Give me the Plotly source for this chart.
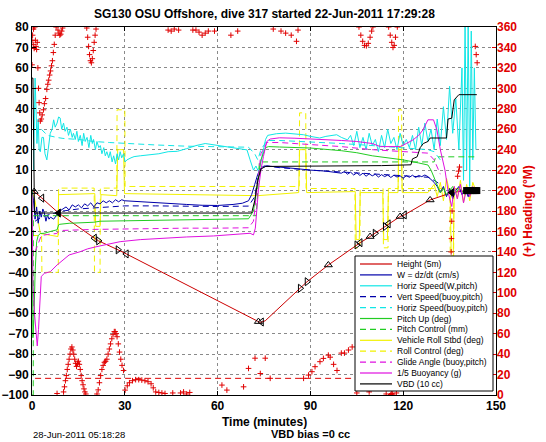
import plotly.graph_objects as go

# ---------------- data ----------------
# Height (5 m units) vs time (minutes)
height_t = [0, 0.7, 3.2, 8.6, 20.2, 21.5, 27.8, 30.5, 73.2, 73.8, 75.4, 86.7, 88.9, 95.8, 105, 106.1,
            109.3, 110.9, 114.2, 115.2, 119, 120.4, 128.7, 135.7, 140.5, 143.8]
height_v = [0, -0.5, -3.7, -11, -23.3, -24.6, -29, -31, -64.1, -64.5, -63.7, -47.8, -44.6, -36.4, -26.6, -25.5,
            -22.5, -20.9, -17.6, -16.3, -12.7, -11.9, -4.6, -1, 0, 0]

# control events marked on the depth trace
gc_t = [0.7, 3.2, 8.6, 20.2, 21.5, 27.8, 30.5, 73.2, 74.2, 86.7, 88.9, 95.8, 105, 106.1, 109.3, 110.9,
        114.2, 115.2, 119, 120.4, 128.7, 135.7]
gc_v = [-0.5, -3.7, -11, -23.3, -24.6, -29, -31, -64.1, -64.3, -47.8, -44.6, -36.4, -26.6, -25.5, -22.5, -20.9,
        -17.6, -16.3, -12.7, -11.9, -4.6, -1]
gc_kind = ['up', 'left', 'solid', 'left', 'right', 'right', 'left', 'up', 'left', 'right', 'right', 'up',
           'right', 'left', 'up', 'right', 'right', 'left', 'up', 'left', 'up', 'solid']
surf_t = [140.5, 141.2, 141.9, 142.6, 143.3, 143.8]
surf_v = [0, 0, 0, 0, 0, 0]

# W = dz/dt (cm/s)
w_t = [0, 0.5, 1, 1.5, 2, 2.5, 3, 3.5, 4, 4.5, 5, 5.5, 6, 7, 8, 8.6,
       9, 10, 11, 12, 13, 14, 15, 16, 17, 18, 19, 20, 21, 22, 23, 24, 25, 26, 27, 28, 29, 30,
       32, 35, 40, 45, 50, 55, 60, 65, 68, 70,
       71, 72, 73, 74, 75, 76, 78, 80, 85, 90, 95, 100,
       101, 102, 103, 104, 105, 106, 107, 108, 109, 110, 111, 112, 113, 114, 115, 116, 117, 118, 119, 120,
       121, 122, 123, 124, 125, 126, 127, 128, 129, 130, 131, 132, 133, 134, 135, 136, 137, 138, 139, 140,
       141, 142, 143, 143.8]
w_v = [0, -5, -14, -8, -16, -10, -13, -9, -11, -15, -12, -14, -13, -14, -12, -11,
       -10, -9, -8, -9.5, -7, -8, -7, -8.5, -6.5, -7.5, -6, -8, -6, -6.5, -5, -6, -5, -6, -4.5, -5.5, -4.5, -5,
       -5.2, -5.6, -6, -6.3, -6.8, -7.2, -7.3, -6.8, -6.2, -5,
       -2, 3, 8, 11, 12, 12, 11.8, 11.4, 10.8, 10, 9.5, 8.5,
       9.3, 8, 9, 7.6, 8.7, 7.4, 8.5, 7, 8.2, 7.2, 8, 6.6, 7.8, 6.8, 7.6, 6.4, 7.5, 6.6, 7.2, 6,
       7.3, 6.5, 7.5, 6.4, 7.4, 6.8, 7.6, 6.8, 5.5, 4, 2, -1, 2, -3, 1, -4, 0, 2, -2, 1,
       -3, 1, -1, 0]

# Horiz speed (W, pitch)
hs_t = [0.5, 1, 1.3, 1.6, 2, 2.3, 2.7, 3.2, 3.7, 4.2, 4.8, 5.3, 5.9, 6.5, 7, 7.5, 8.1, 8.6, 9.1,
        9.6, 10.2, 10.7, 11.3, 11.8, 12.4, 13, 13.4, 14, 14.5, 15, 15.6, 16.2, 16.7, 17.2, 17.8, 18.4, 19,
        19.5, 19.9, 20.5, 21, 21.6, 22.1, 22.6, 23.2, 23.7, 24.2, 24.8, 25.3, 25.9, 26.4, 27, 27.5, 28,
        28.5, 29, 29.6, 30.1, 30.7,
        32, 33, 35, 38, 41, 44, 47, 50, 53, 56, 60, 63, 66, 69.5, 70.5, 71.6, 72.4, 73.2, 74, 74.8, 75.5,
        76.2, 77, 79, 82, 85, 87.8, 90, 93, 95, 98.5, 100, 102,
        103, 104, 105, 106, 107, 108, 109, 110, 111, 112, 113, 114, 115, 116, 117, 118, 119, 120, 121, 122,
        123, 124, 125, 126, 127, 128, 129, 130, 131, 132, 133, 134, 135, 136, 137, 138,
        139, 139.5, 140, 140.5, 141, 141.5, 142, 142.5, 143, 143.5]
hs_v = [10, 55, 40, 23, 35, 20, 19, 26, 26, 18, 15, 22, 28, 30, 34.6, 31, 33, 36, 35.5,
        30, 33, 29, 31, 27, 30, 26, 28, 25, 29, 24, 27, 22, 28, 24, 26, 21, 27,
        23, 25, 20, 24, 21, 22, 18, 21, 17, 19, 16, 19, 14, 17, 13, 18, 15,
        19, 16, 18, 14, 15,
        16, 16.6, 17, 17.5, 18, 19, 19.2, 20.5, 22, 23, 22, 21.5, 20.5, 19.9, 15, 10, 12, 9.3, 14, 20, 25,
        27, 27.3, 27.8, 28.1, 27.8, 27.3, 26.5, 25.7, 26.5, 27.3, 26, 24.8,
        27, 22, 29, 21, 26, 20, 28, 22, 25, 19, 27, 21, 30, 23, 26, 20, 28, 22, 25, 21,
        27, 20, 31, 22, 33, 24, 30, 20, 35, 22, 41, 25, 51, 28, 45, 20,
        60, 5, 82, 10, 82, 2, 78, 15, 60, 20]

# Vert speed (buoy, pitch)
vs_t = [1, 2, 3, 5, 8, 10, 15, 20, 30, 40, 50, 60, 70, 72, 73, 74, 76, 80, 90, 100, 110, 120, 128, 130, 132]
vs_v = [-15, -14, -13, -12, -11, -10, -9, -8.5, -7.5, -7.5, -7.8, -7.8, -7.6, -3, 6, 11, 12, 11.2, 10, 9, 8, 7,
        6.5, 5, 3]

# Horiz speed (buoy, pitch)
hb_t = [3, 5, 8, 10, 15, 20, 25, 30, 40, 50, 60, 70, 72, 73, 74, 76, 80, 90, 100, 110, 120, 128, 130, 132]
hb_v = [30, 27, 26, 25.5, 25, 24, 23.5, 23, 22.3, 21.7, 21.4, 21.2, 18, 15, 20, 24.5, 24.5, 23.8, 23, 22, 21,
        20, 19, 15]

# Pitch up (deg)
p_t = [0, 0.3, 0.7, 1, 1.5, 2, 2.7, 4, 6, 8.1, 8.6, 9, 12, 20, 22, 30, 40, 50, 60, 70,
       71.6, 73, 74, 75.5, 76.5, 80, 90, 100, 105, 110, 115, 120, 125, 128, 129, 130, 131, 132, 133, 134,
       135, 136, 137, 138, 139, 140, 141, 142, 143, 143.8]
p_v = [0, -72, -60, -40, -25, -22, -21, -20.9, -20, -19.2, -16.8, -16.5, -16, -15.5, -15, -14.8, -14.8, -14.6,
       -14.4, -13.8, -10, 5, 15, 21, 21.5, 21.3, 20.8, 19.5, 18.5, 17, 16, 15, 13.5, 12.5, 10, 6, 2, -1, 1, -2,
       0, 2, -1, 1, 0, -2, 1, 0, 1, 0]

# Pitch control (mm)
pc_t = [0, 0.4, 0.45, 72.5, 73.5, 130, 130.5, 143.8]
pc_v = [-100, -100, -12.3, -12.3, 14, 14, 16.5, 16.5]

# Vehicle roll stbd (deg)
vr_t = [0, 1, 2, 2.7, 8.4, 8.6, 20.3, 20.6, 22, 22.3, 27.4, 27.7, 29.6, 29.9, 73, 86.2, 86.5, 88.5, 88.8, 104.5,
        104.8, 105.8, 106.1, 113.4, 113.7, 114.9, 115.2, 118.3, 118.6, 119.4, 119.7, 128, 130, 131, 132, 133,
        134, 135.2, 135.5, 136.2, 136.5, 137.5, 138.5, 139.5, 140.5, 141.5, 142.5, 143.5]
vr_v = [0, -5, -15, -21, -22.5, -2, -1.5, -17.5, -17.5, -2, -2.5, 20, 20, -1.5, -2.5, -1, 20, 20, -1, -0.5,
        -24, -24, -1, -1, -24, -24, -1, -1, 20, 20, -1, -1, 3, -3, 4, -5, 6, -2, -30, -30, 2, -4, 5, -6, 3, -5,
        4, 0]

# Roll control (deg)
rc_t = [0, 3.1, 3.2, 8.5, 8.6, 20.1, 20.2, 22, 22.1, 27.4, 27.5, 30, 30.1, 86.4, 86.5, 88.5, 88.6, 104.4, 104.5,
        106, 106.1, 113.5, 113.6, 115.1, 115.2, 118.4, 118.5, 119.5, 119.6, 135.1, 135.2, 136.3, 136.4, 143.8]
rc_v = [-22, -22, -40, -40, 1.2, 1.2, -40, -40, 1.2, 1.2, 39.5, 39.5, 2, 2, 38, 38, 1, 1, -28, -28, 1, 1, -28,
        -28, 1, 1, 39.5, 39.5, 1, 1, -32, -32, 1, 1]

# Glide angle (buoy, pitch)
ga_t = [1, 3, 5, 8, 8.6, 10, 20, 30, 40, 50, 60, 70, 71.6, 73, 74, 76, 80, 90, 100, 110, 120, 128, 130, 132]
ga_v = [-30, -22, -21.5, -21, -20, -19.5, -19, -18.7, -18.5, -18.4, -18.4, -18.2, -15, 5, 18, 23.5, 23.5, 22.5,
        21.5, 20, 19, 18.3, 15, 8]

# 1/5 Buoyancy (g)
b_t = [0, 0.3, 0.8, 1.3, 1.7, 2.1, 2.6, 3.0, 4, 5.9, 8.1, 10.2, 12, 15.6, 18, 21, 25, 28.5, 35, 42.5,
       50, 58.7, 65, 70.5, 71.6, 72.2, 73.2, 74, 74.8, 75.9, 77, 80, 85, 90, 95, 100, 105, 110, 112.6, 116,
       119, 121, 123.2, 125, 126.4, 128, 129.8, 130.9, 132, 133.5, 134.6, 135.7, 136.5, 137.5, 138.5, 139.5,
       140.5, 141.5, 142.5, 143.5]
b_v = [-2, -45, -60, -72, -76, -68, -55, -42, -40.5, -39.7, -36.4, -33.9, -31.5, -29.9, -28.5, -27.4, -26, -25,
       -24, -23.3, -22.7, -22.2, -21.5, -20.9, -21.7, -18.4, 0.3, 10, 16.6, 24, 25.2, 25.8, 25.6, 25.3, 25, 24.5,
       24, 23, 21.5, 21.5, 21.5, 23, 24.8, 27, 29.7, 34.6, 34.6, 29.7, 20, 10, -1.3, -7.8, 2, -4, 3, -6, 1, -3,
       2, 0]

# VBD (10 cc)
vbd_t = [0, 0.3, 0.8, 71, 72, 73, 74, 75.5, 113, 122.5, 123, 124.5, 125.5, 126.5, 128, 128.7, 134, 134.5, 135.7,
         136.5, 138, 143.8]
vbd_v = [55, 55, -11, -11, -5, 5, 10.5, 11.8, 12.2, 12.6, 15.5, 16.5, 21, 23, 24, 25.7, 25.7, 35, 35.4, 44.4,
         46.9, 46.9]

# Heading (deg magnetic) on right axis
hd_t = [0.0, 0.0, 0.2, 0.4, 0.5, 0.7, 0.9, 1.1, 1.3, 1.5, 1.7, 1.9, 2.1, 2.3, 2.5, 2.7, 3.0, 3.3, 3.7, 4.0,
        4.4, 4.8, 5.1, 5.4, 5.7, 6.0, 6.3, 6.6, 6.9, 7.2, 7.5, 7.8, 8.1, 8.4, 8.7, 9.0, 9.3, 9.6, 9.9, 10.2,
        10.5, 10.8, 11.1, 11.4, 11.7, 12.0, 12.3, 12.6, 12.9, 13.2, 13.5, 13.8, 14.1, 14.4, 14.7, 15.0, 15.3,
        15.6, 15.9, 16.2, 16.5, 16.8, 17.1, 17.4, 17.7, 18.0, 18.3, 18.6, 18.9, 19.2, 19.5, 19.8, 20.1, 20.4,
        20.7, 21.0, 21.4, 21.8, 22.2, 22.6, 23.0, 23.4, 23.8, 24.2, 24.6, 25.0, 25.4, 25.8, 26.2, 26.6, 26.9,
        27.2, 27.5, 27.9, 28.3, 28.7, 29.1, 29.6, 30.1, 30.8, 31.5, 32.5, 33.5, 34.5, 35.5, 36.5, 37.5, 38.5,
        39.2, 40.0, 41.0, 42.0, 43.0, 44.0, 45.0, 45.5, 46.0, 47.4, 48.0, 49.0, 50.0, 51.0, 52.0, 53.0, 54.0,
        55.0, 56.0, 57.0, 59.0, 61.4, 63.0, 64.3, 66.5, 68.4, 70.0, 72.1, 73.8, 75.4, 77.0, 78.0, 80.5, 82.0,
        83.8, 85.5, 86.0, 87.8, 89.4, 90.5, 91.5, 93.1, 94.2, 95.8, 96.4, 97.5, 98.6, 100.0, 101.0, 102.3,
        103.5, 105.0, 105.7, 106.3, 106.9, 107.5, 108.1, 108.7, 109.0, 109.3, 109.8, 110.2, 114.5, 115.3,
        115.8, 116.0, 116.3, 116.3, 116.6, 116.7, 117.1, 117.5, 117.8, 118.1, 135.5, 135.6, 135.7, 135.8,
        137.6, 137.9, 138.2, 143.3, 143.6, 143.9]
hd_deg = [323, 347, 352, 343, 358, 339, 360, 347, 341, 338, 345, 320, 300, 286, 276, 268, 270, 274, 279, 285,
          290, 299, 304, 308, 313, 317, 322, 327, 335, 343, 352, 360, 1.5, 357, 354, 352, 353, 356, 359, 3,
          8, 14, 19, 25, 30, 35, 40, 45, 47, 44, 40, 35, 31, 28, 31, 33, 30, 25, 19, 14,
          10, 6, 3, 1, 359, 350, 341, 333, 327, 325, 329, 337, 345, 352, 358, 1, 5, 12, 19, 25,
          29, 32, 33, 35, 40, 45, 50, 55, 59, 62, 62, 60, 57, 50, 42, 35, 29, 24, 4.8, 9,
          12, 14, 15, 15, 14.6, 14, 13, 11, 7, 3, 2.5, 2, 1.5, 357, 356, 2, 358, 357, 2, 3,
          1, 2.5, 357, 357, 355, 352, 354, 356, 356, 9.7, 4.8, 352, 356, 8, 26, 36, 21, 36, 16.3, 358,
          356, 354, 352, 346, 357, 16.3, 19.5, 22.8, 27.7, 32.6, 35.8, 39, 37, 30, 24, 41, 41, 44, 47, 2,
          360, 352, 346, 342, 341.6, 344, 3, 350, 356, 360, 1, 360, 352, 0.5, 345, 1.5, 0.8, 340, 342, 350,
          2, 360, 140, 153, 170, 180, 214, 219, 223, 341, 333, 325]
target_t = [1, 143.8]
target_deg = [16.3, 16.3]

# ---------------- styles ----------------
RED = '#CC0000'
HRED = '#E00000'
BLUE = '#0000AA'
CYAN = '#11E6E6'
GREEN = '#22CC22'
YELLOW = '#F2F200'
MAGENTA = '#E010E0'
DASH = '6px,4px'

series = [
    ('Height (5m)', RED, 'solid', height_t, height_v),
    ('W = dz/dt (cm/s)', BLUE, 'solid', w_t, w_v),
    ('Horiz Speed(W,pitch)', CYAN, 'solid', hs_t, hs_v),
    ('Vert Speed(buoy,pitch)', BLUE, DASH, vs_t, vs_v),
    ('Horiz Speed(buoy,pitch)', CYAN, DASH, hb_t, hb_v),
    ('Pitch Up (deg)', GREEN, 'solid', p_t, p_v),
    ('Pitch Control (mm)', GREEN, DASH, pc_t, pc_v),
    ('Vehicle Roll Stbd (deg)', YELLOW, 'solid', vr_t, vr_v),
    ('Roll Control (deg)', YELLOW, DASH, rc_t, rc_v),
    ('Glide Angle (buoy,pitch)', MAGENTA, DASH, ga_t, ga_v),
    ('1/5 Buoyancy (g)', MAGENTA, 'solid', b_t, b_v),
    ('VBD (10 cc)', 'black', 'solid', vbd_t, vbd_v),
]

fig = go.Figure()
draw_order = [7, 8, 0, 1, 2, 3, 4, 5, 6, 9, 10, 11]
for i in draw_order:
    name, color, dash, tx, vy = series[i]
    n = min(len(tx), len(vy))
    fig.add_trace(go.Scatter(x=tx[:n], y=vy[:n], mode='lines', name=name,
                             line=dict(color=color, width=1, dash=dash), hoverinfo='skip'))

sym_map = {'up': 'triangle-up-open', 'left': 'triangle-left-open', 'right': 'triangle-right-open',
           'solid': 'triangle-left'}
fig.add_trace(go.Scatter(x=gc_t, y=gc_v, mode='markers', hoverinfo='skip',
                         marker=dict(symbol=[sym_map[k] for k in gc_kind], size=7, color='black',
                                     line=dict(color='black', width=1))))
fig.add_trace(go.Scatter(x=surf_t, y=surf_v, mode='markers', hoverinfo='skip',
                         marker=dict(symbol='square', size=7, color='black')))

nh = min(len(hd_t), len(hd_deg))
fig.add_trace(go.Scatter(x=target_t, y=target_deg, yaxis='y2', mode='lines', hoverinfo='skip',
                         line=dict(color=HRED, width=1, dash=DASH)))
fig.add_trace(go.Scatter(x=hd_t[:nh], y=hd_deg[:nh], yaxis='y2', mode='markers', hoverinfo='skip',
                         marker=dict(symbol='cross-thin', size=4, color=HRED, line=dict(color=HRED, width=1))))

FONT = 'Liberation Sans, Arial, Helvetica, sans-serif'
L, R, T, B = 32, 50, 27, 47
W_, H_ = 546, 442
pw, ph = W_ - L - R, H_ - T - B


def px(xp):
    return (xp - L) / pw


def py(yp):
    return (H_ - B - yp) / ph


grid = dict(showgrid=True, gridcolor='#8a8a8a', griddash='dot', gridwidth=1)
tickf = dict(family=FONT, size=12, color='black', weight='bold')

fig.update_layout(
    width=W_, height=H_, margin=dict(l=L, r=R, t=T, b=B, autoexpand=False),
    paper_bgcolor='white', plot_bgcolor='white', showlegend=False,
    font=dict(family=FONT),
    xaxis=dict(range=[0, 150], tick0=0, dtick=30, ticks='inside', ticklen=4, tickcolor='black',
               showline=True, linecolor='black', linewidth=1, mirror='ticks', zeroline=False,
               automargin=False, tickfont=tickf, **grid),
    yaxis=dict(range=[-100, 80], tick0=-100, dtick=10, ticks='inside', ticklen=4, tickcolor='black',
               showline=True, linecolor='black', linewidth=1, mirror=True, zeroline=False,
               automargin=False, tickfont=tickf, **grid),
    yaxis2=dict(range=[0, 360], tick0=0, dtick=20, overlaying='y', side='right', ticks='inside', ticklen=4,
                tickcolor=HRED, showgrid=False, zeroline=False, showline=False, automargin=False,
                tickfont=dict(family=FONT, size=12, color=HRED, weight='bold')),
)

ann = [
    dict(text='SG130 OSU Offshore, dive 317 started 22-Jun-2011 17:29:28', x=0.5, y=py(14),
         font=dict(size=12, weight='bold', color='black')),
    dict(text='Time (minutes)', x=0.5, y=py(422), font=dict(size=12, weight='bold', color='black')),
    dict(text='28-Jun-2011 05:18:28', x=px(31), y=py(434), xanchor='left', font=dict(size=9.5, color='black')),
    dict(text='VBD bias =0 cc', x=px(352), y=py(434), font=dict(size=11, weight='bold', color='black')),
    dict(text='(+) Heading (°M)', x=px(537), y=py(211), textangle=-90, font=dict(size=12, weight='bold', color=HRED)),
]

# manual legend box
shapes = [dict(type='rect', xref='paper', yref='paper', x0=px(355), x1=px(493), y0=py(391), y1=py(256),
               fillcolor='white', line=dict(color='black', width=1), layer='above')]
for k, (name, color, dash, _, _) in enumerate(series):
    yc = 264 + k * 10.9
    shapes.append(dict(type='line', xref='paper', yref='paper', x0=px(360), x1=px(392), y0=py(yc), y1=py(yc),
                       line=dict(color=color, width=1.2, dash=dash), layer='above'))
    ann.append(dict(text=name, x=px(395), y=py(yc), xanchor='left', font=dict(size=8.5, color='black')))

for a in ann:
    a.setdefault('xref', 'paper')
    a.setdefault('yref', 'paper')
    a.setdefault('showarrow', False)
    a.setdefault('yanchor', 'middle')
    a['font'].setdefault('family', FONT)

fig.update_layout(annotations=ann, shapes=shapes)
fig.write_html('out.html', config={'displayModeBar': False},
               post_script="document.body.style.margin='0px';document.body.style.overflow='hidden';")
